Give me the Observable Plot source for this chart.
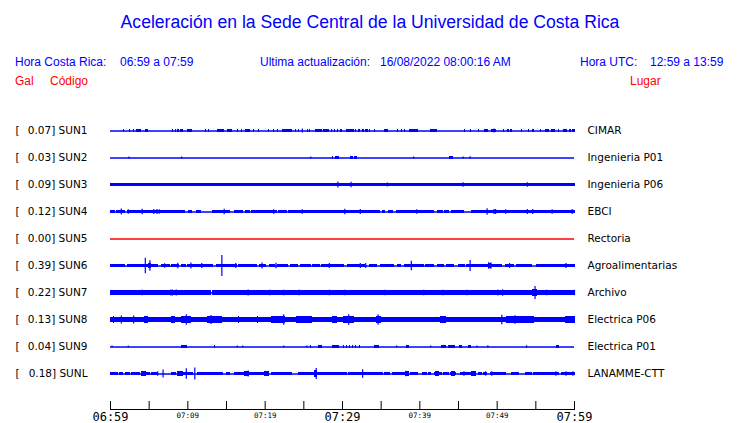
<!DOCTYPE html>
<html>
<head>
<meta charset="utf-8">
<script src="https://cdn.jsdelivr.net/npm/d3@7"></script>
<script src="https://cdn.jsdelivr.net/npm/@observablehq/plot@0.6"></script>
<style>
  html, body { margin: 0; padding: 0; background: #fff; overflow: hidden; }
  #hdr { position: relative; width: 740px; height: 100px; font-family: "Liberation Sans", Arial, sans-serif; }
  #hdr div { position: absolute; white-space: pre; line-height: normal; }
  .b { color: #0000ff; font-size: 12px; }
  .r { color: #ff0000; font-size: 12px; }
</style>
</head>
<body>
<div id="hdr">
  <div id="title" style="left:0;width:740px;text-align:center;top:12px;font-size:17.6px;color:#0000ff;">Aceleración en la Sede Central de la Universidad de Costa Rica</div>
  <div class="b" style="left:15px;top:55px;">Hora Costa Rica:</div>
  <div class="b" style="left:120px;top:55px;">06:59 a 07:59</div>
  <div class="b" style="left:260px;top:55px;">Ultima actualización:</div>
  <div class="b" style="left:380px;top:55px;">16/08/2022 08:00:16 AM</div>
  <div class="b" style="left:580px;top:55px;">Hora UTC:</div>
  <div class="b" style="left:650px;top:55px;">12:59 a 13:59</div>
  <div class="r" style="left:15px;top:74px;">Gal</div>
  <div class="r" style="left:50px;top:74px;">Código</div>
  <div class="r" style="left:630px;top:74px;">Lugar</div>
</div>
<div id="chart"></div>
<script>
// ---- Data (time in minutes after 06:59, amplitude in Gal) ----
const stations = ["SUN1","SUN2","SUN3","SUN4","SUN5","SUN6","SUN7","SUN8","SUN9","SUNL"];
const places = ["CIMAR","Ingenieria P01","Ingenieria P06","EBCI","Rectoria","Agroalimentarias","Archivo","Electrica P06","Electrica P01","LANAMME-CTT"];
const peakGal = [0.07, 0.03, 0.09, 0.12, 0.00, 0.39, 0.22, 0.13, 0.04, 0.18];
const tickMinutes = [0, 5, 10, 15, 20, 25, 30, 35, 40, 45, 50, 55, 60];
const labelMinutes = [0, 10, 20, 30, 40, 50, 60];
const labelTexts = ["06:59","07:09","07:19","07:29","07:39","07:49","07:59"];
const majorLabelMinutes = [0, 30, 60];

// continuous noise bands: [start, end]
const sun3Bands = [[0,60]];
const sun3BandAmp = 0.05;
const sun4Bands = [[0,0.6],[0.9,1.9],[2.3,9.6],[10.1,10.5],[11.2,11.7],[13.3,15.5],[16.1,17.1],[17.5,18.0],[18.3,21.5],[21.8,22.8],[23.1,34.8],[35.3,35.5],[36.0,36.5],[37.0,41.8],[42.3,43.0],[43.3,43.8],[44.2,45.7],[46.8,60]];
const sun4BandAmp = 0.05;
const sun6Bands = [[0,0.4],[0.6,1.9],[2.3,3.5],[3.7,6.1],[6.6,7.7],[8.0,8.8],[9.3,9.8],[10.0,12.3],[12.5,13.3],[13.8,16.4],[16.6,19.0],[19.3,20.1],[20.6,21.3],[21.7,23.0],[23.3,24.2],[24.6,25.9],[26.2,27.1],[27.4,30.2],[30.7,32.2],[32.5,32.9],[33.5,34.5],[35.0,36.7],[37.2,37.6],[38.1,40.5],[40.8,41.8],[42.3,43.1],[43.5,44.4],[45.0,45.9],[46.1,48.8],[49.1,50.6],[51.2,52.2],[52.5,54.5],[55.1,57.6],[57.8,59.0],[59.2,60]];
const sun6BandAmp = 0.064;
const sun7Bands = [[0,13.0],[13.2,60]];
const sun7BandAmp = 0.075;
const sun8Bands = [[0,60]];
const sun8BandAmp = 0.075;
const sunLBands = [[0.1,1.0],[1.2,1.6],[2.0,2.5],[2.8,3.8],[4.1,5.1],[5.4,6.0],[8.0,8.5],[8.7,10.0],[10.1,10.7],[11.3,14.6],[15.0,15.5],[16.1,18.3],[18.4,20.5],[20.9,23.5],[24.4,26.4],[26.7,28.0],[28.1,30.6],[30.9,32.5],[32.8,35.2],[35.5,36.1],[36.5,38.3],[38.9,39.8],[40.4,40.9],[41.2,41.4],[41.9,42.9],[43.1,43.8],[44.0,44.7],[45.3,47.3],[47.6,48.0],[48.3,48.7],[49.2,51.1],[51.9,52.8],[53.7,54.5],[54.8,56.9],[57.1,58.0],[58.4,60]];
const sunLBandAmp = 0.05;

// bursts: [start, end, amplitude]
const sun1Bursts = [[1.7,1.7,.05],[2.5,2.5,.045],[3.0,3.0,.05],[3.4,4.0,.05],[4.6,4.8,.05],[8.1,8.1,.05],[8.5,8.5,.05],[8.7,8.9,.05],[9.1,9.4,.05],[10.0,10.5,.05],[12.3,12.3,.045],[12.7,12.7,.05],[13.9,14.7,.06],[15.2,15.7,.05],[16.5,16.5,.05],[17.0,17.0,.05],[17.5,18.0,.05],[18.6,18.6,.05],[19.2,19.2,.05],[20.5,20.5,.05],[21.1,21.1,.05],[21.7,21.7,.05],[22.3,23.5,.05],[24.0,24.0,.05],[24.4,24.4,.05],[25.5,25.5,.05],[25.8,25.8,.05],[26.6,27.3,.05],[27.6,28.3,.05],[28.6,28.6,.05],[29.0,29.0,.05],[29.4,29.4,.05],[29.8,29.9,.05],[30.6,31.5,.06],[31.7,31.8,.05],[32.1,32.3,.05],[32.6,32.8,.05],[33.1,33.3,.05],[33.5,33.5,.05],[34.2,34.2,.05],[35.5,35.9,.05],[37.2,37.2,.05],[37.7,37.7,.05],[38.1,38.1,.05],[38.7,39.8,.05],[41.4,42.2,.05],[45.8,45.8,.05],[46.6,46.6,.045],[47.6,47.6,.05],[48.4,48.8,.05],[49.3,49.9,.06],[50.9,50.9,.05],[51.4,51.5,.05],[51.8,51.9,.05],[53.2,53.2,.05],[54.1,54.1,.05],[54.6,54.8,.05],[55.7,55.7,.05],[56.3,56.7,.05],[57.1,57.5,.05],[58.0,58.0,.05],[58.6,59.0,.05],[59.4,59.5,.05],[59.8,60,.05]];
const sun2Bursts = [[28.8,28.8,.045],[29.2,29.5,.045],[31.1,31.4,.05],[31.6,31.9,.05],[43.9,44.3,.055]];
const sun3Bursts = [[53.5,60,.06]];
const sun4Bursts = [];
const sun6Bursts = [[48.9,49.2,.09],[5.0,5.3,.09]];
const sun7Bursts = [[32.6,32.9,.1],[39.0,39.2,.1],[54.6,55.2,.14]];
const sun8Bursts = [[0.5,0.5,.12],[1.2,1.6,.11],[3.0,3.0,.11],[4.5,4.8,.12],[6.0,6.0,.11],[7.0,7.0,.11],[8.0,8.3,.12],[9.2,10.4,.12],[11.6,11.6,.11],[12.6,14.4,.12],[15.5,15.5,.11],[16.0,16.0,.11],[16.6,16.6,.13],[17.4,17.4,.11],[18.3,18.3,.11],[19.1,19.1,.12],[20.9,22.6,.12],[24.1,26.0,.12],[27.6,28.0,.11],[28.8,29.3,.12],[30.2,31.5,.12],[32.3,32.3,.11],[34.4,35.0,.12],[36.8,38.6,.11],[39.9,39.9,.11],[41.2,41.8,.11],[42.7,43.4,.12],[44.2,44.2,.11],[44.7,45.5,.11],[46.7,47.4,.11],[48.7,49.2,.11],[49.6,49.9,.11],[51.3,54.8,.115],[55.8,56.3,.11],[57.6,57.6,.11],[58.9,60,.115]];
const sun9Bursts = [[9.2,9.9,.05],[13.5,13.5,.05],[25.9,25.9,.05],[27.0,27.3,.05],[28.8,29.5,.05],[30.2,30.2,.045],[30.6,30.6,.045],[31.0,31.0,.045],[31.4,31.4,.045],[31.8,31.8,.045],[32.2,32.2,.045],[34.2,34.7,.05],[38.3,38.6,.045],[42.9,43.4,.045],[43.8,44.5,.045],[45.2,45.5,.045],[46.4,46.6,.05],[57.7,58.0,.045]];
const sunLBursts = [[4.1,4.6,.075],[8.7,9.4,.09],[17.4,17.9,.09],[20.0,20.5,.09],[26.4,26.7,.12],[38.2,38.6,.085],[42.1,42.5,.085],[44.2,44.5,.09],[46.7,47.3,.09]];

// spikes: [time, amplitude]
const sun1Spikes = [[24.8,.07],[49.6,.07]];
const sun2Spikes = [[2.4,.04],[9.2,.04],[25.9,.04],[39.2,.035],[45.6,.04],[46.5,.045]];
const sun3Spikes = [[29.4,.11],[31.1,.1],[35.8,.075],[45.6,.08],[53.9,.085]];
const sun4Spikes = [[1.4,.11],[2.3,.08],[4.1,.1],[5.6,.09],[6.0,.09],[6.3,.08],[14.7,.1],[21.1,.08],[24.8,.08],[30.3,.1],[32.3,.09],[39.6,.08],[48.7,.12],[49.6,.09],[49.8,.09],[51.1,.08],[53.9,.09],[54.6,.09],[57.1,.08],[59.7,.09]];
const sun6Spikes = [[4.5,.29],[5.1,.19],[7.0,.08],[8.7,.1],[10.4,.11],[11.8,.09],[14.4,.39],[16.2,.09],[19.6,.11],[21.4,.1],[28.3,.09],[32.3,.09],[33.0,.09],[38.9,.18],[46.5,.2],[48.9,.12],[49.2,.12],[51.6,.09],[58.9,.09]];
const sun7Spikes = [[4.1,.1],[7.8,.11],[8.0,.11],[8.5,.11],[17.8,.11],[20.6,.1],[22.4,.1],[24.4,.1],[28.3,.1],[30.3,.1],[35.5,.1],[40.5,.1],[43.0,.1],[46.1,.1],[50.1,.11],[50.7,.12],[54.9,.24],[56.4,.1],[60.0,.1]];
const sun8Spikes = [[1.4,.15],[3.0,.15],[9.8,.19],[13.0,.17],[22.4,.19],[30.8,.19],[34.6,.19],[50.6,.18],[52.3,.16]];
const sun9Spikes = [[0.2,.04],[2.3,.04],[16.4,.04],[17.1,.04],[22.4,.035],[25.4,.04],[37.0,.04],[41.4,.04],[47.4,.04],[48.8,.05],[53.8,.045]];
const sunLSpikes = [[6.1,.08],[6.8,.15],[9.8,.19],[10.9,.22],[17.8,.11],[26.6,.2],[32.6,.16],[38.2,.1],[45.7,.08],[48.5,.08],[49.3,.08],[57.6,.08],[58.9,.08],[59.8,.08]];

// ---- Build tables ----
const seriesList = [
  {bursts: sun1Bursts, spikes: sun1Spikes},
  {bursts: sun2Bursts, spikes: sun2Spikes},
  {bands: sun3Bands, bandAmp: sun3BandAmp, bursts: sun3Bursts, spikes: sun3Spikes},
  {bands: sun4Bands, bandAmp: sun4BandAmp, bursts: sun4Bursts, spikes: sun4Spikes},
  {},
  {bands: sun6Bands, bandAmp: sun6BandAmp, bursts: sun6Bursts, spikes: sun6Spikes},
  {bands: sun7Bands, bandAmp: sun7BandAmp, bursts: sun7Bursts, spikes: sun7Spikes},
  {bands: sun8Bands, bandAmp: sun8BandAmp, bursts: sun8Bursts, spikes: sun8Spikes},
  {bursts: sun9Bursts, spikes: sun9Spikes},
  {bands: sunLBands, bandAmp: sunLBandAmp, bursts: sunLBursts, spikes: sunLSpikes}
];
const rows = stations.map((s, i) => ({i, s, place: places[i], peak: peakGal[i]}));
const segs = [], spk = [];
seriesList.forEach((s, i) => {
  (s.bands || []).forEach(([t0, t1]) => segs.push({i, t0, t1, a: s.bandAmp}));
  (s.bursts || []).forEach(([t0, t1, a]) => segs.push({i, t0, t1, a}));
  (s.spikes || []).forEach(([t, a]) => spk.push({i, t, a}));
});
const BLUE = "#0000ff", RED = "#ff0000";
const fmt = m => labelTexts[labelMinutes.indexOf(m)];

const chart = Plot.plot({
  width: 740,
  height: 323,
  marginLeft: 110,
  marginRight: 166,
  marginTop: 0,
  marginBottom: 14,
  x: {domain: [0, 60], label: null},
  y: {domain: [0, 9], range: [30.5, 273.5], axis: null},
  style: {fontFamily: "DejaVu Sans", fontSize: "10.5px", color: "black", background: "white"},
  marks: [
    Plot.ruleY(rows.filter(d => d.peak > 0), {y: "i", stroke: BLUE, strokeWidth: 1.3}),
    Plot.ruleY(rows.filter(d => d.peak === 0), {y: "i", stroke: RED, strokeWidth: 1.3}),
    Plot.rect(segs, {x1: "t0", x2: "t1", y1: d => d.i - d.a, y2: d => d.i + d.a, fill: BLUE,
      insetLeft: -0.5, insetRight: -0.5, shapeRendering: "crispEdges"}),
    Plot.ruleX(spk, {x: "t", y1: d => d.i - d.a, y2: d => d.i + d.a, stroke: BLUE, strokeWidth: 1.2}),
    Plot.text(rows, {y: "i", frameAnchor: "left", text: () => "[", textAnchor: "start", dx: -95, fill: "black", fontFamily: "DejaVu Sans", fontSize: 10.5}),
    Plot.text(rows, {y: "i", frameAnchor: "left", text: d => `${d.peak.toFixed(2)}] ${d.s}`, textAnchor: "end", dx: -23, fill: "black", fontFamily: "DejaVu Sans", fontSize: 10.5}),
    Plot.text(rows, {y: "i", frameAnchor: "right", text: "place", textAnchor: "start", dx: 13, fill: "black", fontFamily: "DejaVu Sans", fontSize: 10.5}),
    Plot.frame({anchor: "bottom", stroke: "black"}),
    Plot.axisX(tickMinutes, {tickSize: -8, tickFormat: () => "", stroke: "black"}),
    Plot.axisX(majorLabelMinutes, {tickSize: 0, tickPadding: 3, tickFormat: fmt, fontFamily: "DejaVu Sans Mono", fontSize: 12, fill: "black"}),
    Plot.axisX(labelMinutes.filter(m => !majorLabelMinutes.includes(m)), {tickSize: 0, tickPadding: 3, tickFormat: fmt, fontFamily: "DejaVu Sans Mono", fontSize: 7.5, fill: "black"})
  ]
});
document.getElementById("chart").appendChild(chart);
</script>
</body>
</html>
